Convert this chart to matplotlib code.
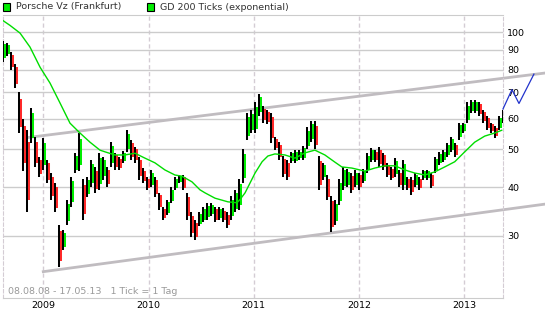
import matplotlib
matplotlib.use('Agg')
import matplotlib.pyplot as plt
import numpy as np
from matplotlib.patches import Rectangle
from matplotlib.ticker import NullLocator

plt.rcParams['font.family'] = ['DejaVu Sans']

# ---------------- data (Porsche Vz, Frankfurt, 08.08.08 - 17.05.13) ----------------
# high / low of each bar (about two weeks per bar)
hi = [95, 93.5, 89, 83, 70, 60, 56, 64, 53.8, 47.9, 53.5, 47, 43.6, 41.1, 32, 31,
      37, 42.5, 49, 55, 42, 42.5, 47, 45.1, 49, 47.9, 45, 52.3, 49, 47.9, 49.5, 56,
      52.9, 50.8, 47.9, 44.7, 42.5, 44.3, 42.5, 38.7, 35.6, 37.1, 40, 42.5, 43, 43,
      38.7, 34.5, 33, 34.5, 35.6, 36.4, 36.4, 35.6, 35.6, 35.3, 34.5, 38, 39.4, 42,
      50, 62, 63.1, 66, 69.5, 64.5, 63.1, 62, 53.8, 52.3, 48, 47, 49.3, 49.8, 49.8,
      51, 57, 59, 59, 48, 46.2, 43, 38, 37, 42, 45.1, 44.5, 43.6, 44.3, 43.6, 44.5,
      49, 50.3, 49.8, 50.8, 49, 46.2, 45.1, 47.5, 44.3, 47, 42.5, 42.5, 43.6, 42.5,
      44.3, 44.3, 43.6, 47.9, 49.3, 49.8, 51.9, 53.8, 51.9, 58.5, 58.5, 66, 67, 67,
      66, 63.1, 61, 58.5, 57.5, 61, 63.1]
lo = [84, 87, 80, 72, 55, 44, 34.6, 52, 45, 42.5, 44.3, 41, 37.1, 34.5, 25, 27.6,
      32, 35.6, 43.6, 44, 33, 37.8, 40, 38.7, 39.4, 41.8, 40, 45.1, 44.3, 44.3, 46.2,
      49.3, 47, 46.2, 41.8, 41.1, 39.4, 40, 37.8, 35, 33, 34, 36.4, 39.4, 41.1, 39.4,
      33, 29.8, 29.3, 31.8, 32.5, 33, 33.8, 32.5, 33, 32.5, 31.5, 33, 34.5, 35,
      41, 53, 55, 55, 61, 58.5, 58, 52, 49.8, 47, 42.5, 41.8, 46.2, 46.2, 47,
      47, 50, 52.3, 50, 39.4, 41.8, 37, 30.7, 32, 36, 39.4, 40, 38.7, 40, 39.4, 41.1,
      43.6, 46.5, 46.5, 45.1, 44.3, 42.5, 41.8, 42.5, 40, 39.4, 39.4, 38.2, 40, 39.4,
      41.8, 41.8, 39.8, 43.6, 45.6, 46.5, 47.9, 49.3, 47.9, 52.9, 55.1, 58.5, 62, 62,
      61, 58.5, 56.1, 55.1, 53.4, 56.1, 58.5]
t = np.linspace(2008.616, 2013.371, len(hi))   # evenly spaced trading periods

# GD 200 (exponential)
ema_t = [2008.616, 2008.683, 2008.778, 2008.873, 2008.968, 2009.063, 2009.158, 2009.253,
         2009.348, 2009.443, 2009.538, 2009.586, 2009.681, 2009.776, 2009.871, 2009.966,
         2010.061, 2010.156, 2010.251, 2010.318, 2010.413, 2010.489, 2010.537, 2010.632,
         2010.755, 2010.841, 2010.870, 2010.918, 2010.965, 2011.013, 2011.080, 2011.135,
         2011.202, 2011.297, 2011.392, 2011.487, 2011.582, 2011.677, 2011.772, 2011.838,
         2011.933, 2012.057, 2012.152, 2012.247, 2012.342, 2012.437, 2012.532, 2012.627,
         2012.722, 2012.817, 2012.912, 2013.007, 2013.102, 2013.197, 2013.292, 2013.359]
ema_v = [107, 104, 99.4, 91.5, 81.3, 74, 65.8, 58.4, 55.1, 52.2, 49.8, 49.3, 48.4, 48.4,
         48.9, 47.5, 46.2, 44.3, 43.0, 42.7, 41.3, 39.4, 38.7, 37.5, 36.7, 36.5, 37.2,
         38.7, 41.0, 43.5, 46.5, 48.1, 48.7, 48.4, 47.5, 49.0, 49.8, 48.4, 46.4, 45.1,
         44.8, 44.0, 44.8, 45.4, 45.4, 44.3, 43.5, 43.0, 43.8, 45.1, 46.5, 49.3, 52.2,
         54.1, 55.1, 56]

# trend channel and forecast
upper_t, upper_v = [2008.863, 2013.768], [53.7, 78.5]
lower_t, lower_v = [2008.999, 2013.768], [24.3, 36.2]
fc_t = [2013.371, 2013.456, 2013.523, 2013.665]
fc_v = [63.5, 71.2, 65.6, 78.0]

yticks = [30, 40, 50, 60, 70, 80, 90, 100]
years = [2009, 2010, 2011, 2012, 2013]

# ---------------- figure ----------------
W, H = 545, 330
fig = plt.figure(figsize=(W / 100, H / 100), dpi=100)
ax = fig.add_axes([3 / W, 32 / H, 500 / W, 283 / H])
ax.set_yscale('log')
ax.set_ylim(20.8, 110.6)
ax.set_xlim(2008.616, 2013.371)

# grid
ax.set_yticks(yticks)
ax.set_yticklabels([str(v) for v in yticks])
ax.yaxis.set_minor_locator(NullLocator())
ax.set_xticks(years)
ax.set_xticklabels([str(y) for y in years])
ax.yaxis.tick_right()
ax.tick_params(axis='y', length=0, pad=3, labelsize=6.8, colors='black')
ax.tick_params(axis='x', length=0, pad=2.5, labelsize=6.8, colors='black')
ax.grid(axis='y', color='#cccccc', lw=1, ls='-')
ax.grid(axis='x', color='#d4ccd4', lw=1, ls=(0, (3, 2)))
ax.set_axisbelow(True)
for s in ['top', 'bottom']:
    ax.spines[s].set_color('#cccccc')
for s in ['left', 'right']:
    ax.spines[s].set_color('#d4ccd4')
    ax.spines[s].set_linestyle((0, (3, 2)))

# trend channel
ax.plot(upper_t, upper_v, color='#c0bcc0', lw=2.0, clip_on=False, zorder=2)
ax.plot(lower_t, lower_v, color='#c0bcc0', lw=2.0, clip_on=False, zorder=2)

# bars: black wick plus coloured body beside it
hi = np.array(hi)
lo = np.array(lo)
mid = np.sqrt(hi * lo)
prev = np.r_[mid[0], mid[:-1]]
up = mid >= prev
span = (hi / lo) ** 0.15
b_top = hi / span
b_bot = lo * span
dt = t[1] - t[0]
ax.vlines(t[up] + dt * 0.5, b_bot[up], b_top[up], color='#00ee00', lw=1.45, zorder=3)
ax.vlines(t[~up] + dt * 0.5, b_bot[~up], b_top[~up], color='#ff2a2a', lw=1.45, zorder=3)
ax.vlines(t, lo, hi, color='black', lw=1.45, zorder=4)

# GD 200
ax.plot(ema_t, ema_v, color='#00dd00', lw=1.0, zorder=5)

# forecast
ax.plot(fc_t, fc_v, color='#2233cc', lw=0.9, clip_on=False, zorder=6)

# legend
for x0, label in [(3, 'Porsche Vz (Frankfurt)'), (147, 'GD 200 Ticks (exponential)')]:
    fig.patches.append(Rectangle((x0 / W, 1 - 10.5 / H), 7 / W, 7 / H,
                                 transform=fig.transFigure, facecolor='#00ee00',
                                 edgecolor='black', lw=0.8))
    fig.text((x0 + 13) / W, 1 - 7 / H, label, fontsize=6.8, color='#333333', va='center')

fig.text(7.6 / W, 1 - 292 / H, '08.08.08 - 17.05.13   1 Tick = 1 Tag',
         fontsize=6.8, color='#999999', va='center')

fig.savefig('out.png', dpi=100)
